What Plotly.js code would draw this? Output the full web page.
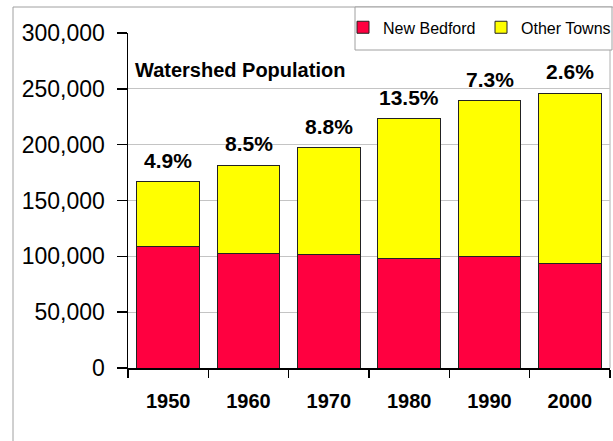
<!DOCTYPE html>
<html>
<head>
<meta charset="utf-8">
<script src="https://cdn.plot.ly/plotly-3.0.1.min.js"></script>
<style>html,body{margin:0;padding:0;background:#fff;}#chart{width:613px;height:441px;}</style>
</head>
<body>
<div id="chart"></div>
<script>
// Data
var years = ['1950', '1960', '1970', '1980', '1990', '2000'];
var newBedford = [109200, 102500, 101800, 98500, 99900, 93800];
var otherTowns = [57600, 78900, 95500, 124500, 139600, 152300];
var growthLabels = ['4.9%', '8.5%', '8.8%', '13.5%', '7.3%', '2.6%'];
var yTicks = [0, 50000, 100000, 150000, 200000, 250000, 300000];

var FONT = 'Arial, "Liberation Sans", sans-serif';

var totals = years.map(function (_, i) { return newBedford[i] + otherTowns[i]; });

var traces = [
  {
    type: 'bar', name: 'New Bedford', x: years, y: newBedford,
    marker: { color: '#ff0040', line: { color: '#222222', width: 1 } },
    hoverinfo: 'skip'
  },
  {
    type: 'bar', name: 'Other Towns', x: years, y: otherTowns,
    marker: { color: '#ffff00', line: { color: '#222222', width: 1 } },
    hoverinfo: 'skip'
  }
];

var annotations = years.map(function (yr, i) {
  return {
    x: i, y: totals[i], xref: 'x', yref: 'y',
    text: '<b>' + growthLabels[i] + '</b>',
    showarrow: false, yanchor: 'bottom', yshift: 8,
    font: { family: FONT, size: 21, color: '#000' }
  };
});

var layout = {
  width: 613, height: 441,
  margin: { l: 128, r: 3, t: 33, b: 73, autoexpand: false },
  paper_bgcolor: '#ffffff', plot_bgcolor: '#ffffff',
  barmode: 'stack', bargap: 0.22,
  title: {
    text: '<b>Watershed Population</b>',
    font: { family: FONT, size: 20, color: '#000' },
    x: 135 / 613, xanchor: 'left', xref: 'container',
    y: 1 - 70 / 441, yanchor: 'middle', yref: 'container'
  },
  showlegend: true,
  legend: {
    orientation: 'h', x: (343 - 128) / 482, y: 1.0776 - 0.01, xanchor: 'left', yanchor: 'top',
    bgcolor: 'rgba(0,0,0,0)', borderwidth: 0,
    entrywidth: 93, entrywidthmode: 'pixels',
    font: { family: FONT, size: 16, color: '#000' },
    traceorder: 'normal'
  },
  xaxis: {
    type: 'category', tickson: 'boundaries', range: [-0.5, 5.5],
    showline: true, linecolor: '#000', linewidth: 1.5,
    ticks: 'outside', ticklen: 8, tickcolor: '#000', tickwidth: 1.5,
    showgrid: false, zeroline: false, automargin: false,
    tickfont: { family: FONT, size: 20, color: '#000', weight: 'bold' },
    ticklabelstandoff: 14,
    fixedrange: true
  },
  yaxis: {
    range: [0, 300000], tickvals: yTicks, tickformat: ',d',
    showline: true, linecolor: '#000', linewidth: 1.5,
    ticks: 'outside', ticklen: 10, tickcolor: '#000', tickwidth: 1.5,
    showgrid: true, gridcolor: '#c4c4c4', gridwidth: 1,
    zeroline: false, automargin: false,
    tickfont: { family: FONT, size: 23, color: '#000' },
    ticklabelstandoff: 7,
    fixedrange: true
  },
  shapes: [
    // outer chart frame
    { type: 'rect', xref: 'paper', yref: 'paper',
      x0: (13 - 128) / 482, x1: (640 - 128) / 482,
      y0: (368 - 470) / 335, y1: (368 - 7) / 335,
      line: { color: '#a0a0a0', width: 1 }, fillcolor: 'rgba(0,0,0,0)', layer: 'below' },
    // right plot border
    { type: 'line', xref: 'paper', yref: 'paper', x0: 1, x1: 1, y0: 0, y1: 1,
      line: { color: '#b0b0b0', width: 1 }, layer: 'below' },
    // legend box
    { type: 'rect', xref: 'paper', yref: 'paper',
      x0: (355 - 128) / 482, x1: (612 - 128) / 482,
      y0: (368 - 50) / 335, y1: (368 - 7) / 335,
      line: { color: '#a0a0a0', width: 1 }, fillcolor: '#ffffff', layer: 'above' }
  ],
  annotations: annotations
};

Plotly.newPlot('chart', traces, layout, { displayModeBar: false, staticPlot: true });
</script>
</body>
</html>
